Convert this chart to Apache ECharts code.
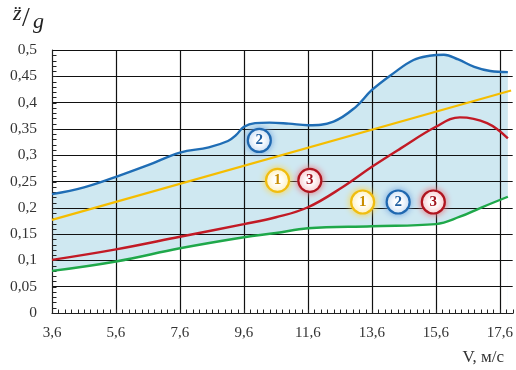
<!DOCTYPE html>
<html><head><meta charset="utf-8">
<script src="https://cdn.jsdelivr.net/npm/echarts@6/dist/echarts.min.js"></script>
<style>html,body{margin:0;padding:0;background:#fff}#c{width:516px;height:370px}</style>
</head><body><div id="c"></div>
<script>
var xTickLabels = ['3,6','5,6','7,6','9,6','11,6','13,6','15,6','17,6'];
var yTickLabels = ['0','0,05','0,1','0,15','0,2','0,25','0,3','0,35','0,4','0,45','0,5'];
var blueV = [3.6,4.6,5.6,6.6,7.6,8.5,9.1,9.35,9.6,9.95,10.4,11.0,11.6,12.4,13.1,13.6,14.3,14.9,15.4,15.85,16.3,16.8,17.3,17.85];
var blueY = [0.226,0.239,0.259,0.281,0.305,0.315,0.327,0.338,0.354,0.361,0.362,0.360,0.357,0.364,0.392,0.424,0.457,0.481,0.489,0.491,0.482,0.468,0.460,0.458];
var yellowV = [3.6,17.95];
var yellowY = [0.177,0.423];
var redV = [3.6,5.6,7.6,9.6,10.6,11.6,12.7,13.6,14.5,15.6,16.35,17.2,17.85];
var redY = [0.101,0.121,0.145,0.169,0.182,0.201,0.240,0.278,0.313,0.354,0.372,0.361,0.332];
var greenV = [3.6,5.6,7.6,9.6,10.6,11.6,13.6,15.6,16.35,17.0,17.85];
var greenY = [0.080,0.098,0.123,0.144,0.152,0.161,0.165,0.169,0.183,0.200,0.221];
var annoV = [10.08,10.65,11.66,13.31,14.42,15.52];
var annoY = [0.328,0.252,0.252,0.211,0.211,0.211];
var annoText = ['2','1','3','1','2','3'];

var C = {blue:'#1f6db5', yellow:'#f5bd00', red:'#c21a25', green:'#1fa84a', fill:'#cfe8f1'};
var annoColor = {'1':{b:'#f0bd10',t:'#c98e00',g:'rgba(250,215,80,1)'},
                 '2':{b:'#1f68b0',t:'#1f5ea0',g:'rgba(120,170,225,1)'},
                 '3':{b:'#b0141f',t:'#a0121c',g:'rgba(230,120,128,1)'}};
function pairs(xs, ys){ return xs.map(function(x,i){return [x, ys[i]];}); }
var serif = '"Liberation Serif","DejaVu Serif",serif';

// minor tick marks (axis decoration): every 0.2 on x, every 0.01 on y
var tickMarks = [];
for (var k = 0; k <= 72; k++) tickMarks.push([+(3.6 + k*0.2).toFixed(2), 0, 0]);
for (var m = 1; m < 50; m++) tickMarks.push([3.6, +(m*0.01).toFixed(2), 1]);

var chart = echarts.init(document.getElementById('c'));
var option = {
  animation:false,
  backgroundColor:'#fff',
  grid:{left:52,right:3,top:50,bottom:57,containLabel:false},
  xAxis:{
    type:'value', min:3.6, max:18, interval:2,
    axisLine:{show:true,onZero:false,lineStyle:{color:'#222',width:1.2}},
    axisTick:{show:false},
    splitLine:{show:true,showMaxLine:false,showMinLine:false,lineStyle:{color:'#111',width:1.2}},
    axisLabel:{show:true,margin:13,color:'#333',fontFamily:serif,fontSize:15,showMaxLabel:false,
      formatter:function(v){ var i=Math.round((v-3.6)/2); return (Math.abs(v-3.6-2*i)<1e-6 && xTickLabels[i])?xTickLabels[i]:''; }}
  },
  yAxis:{
    type:'value', min:0, max:0.5, interval:0.05,
    axisLine:{show:true,lineStyle:{color:'#222',width:1.2}},
    axisTick:{show:false},
    splitLine:{show:true,showMinLine:false,lineStyle:{color:'#111',width:1.2}},
    axisLabel:{margin:15,color:'#333',fontFamily:serif,fontSize:15.5,
      formatter:function(v){ var i=Math.round(v/0.05); return yTickLabels[i]; }}
  },
  series:[
    {type:'line',name:'bandTop',data:pairs(blueV,blueY),smooth:0.4,symbol:'none',z:-2,
      lineStyle:{width:0,opacity:0},areaStyle:{color:C.fill,opacity:1},silent:true},
    {type:'line',name:'bandBottom',data:pairs(greenV,greenY),smooth:0.4,symbol:'none',z:-1,
      lineStyle:{width:0,opacity:0},areaStyle:{color:'#ffffff',opacity:1},silent:true},
    {type:'custom',name:'ticks',z:5,clip:false,silent:true,data:tickMarks,
      renderItem:function(params, api){
        var p = api.coord([api.value(0), api.value(1)]);
        var vert = api.value(2) === 0;
        var x = Math.round(p[0]) + 0.5, y = Math.round(p[1]) + 0.5;
        return {type:'line',shape: vert ? {x1:x,y1:y,x2:x,y2:y-4} : {x1:x,y1:y,x2:x+4,y2:y},
          style:{stroke:'#222',lineWidth:1}};
      }},
    {type:'line',name:'green',data:pairs(greenV,greenY),smooth:0.4,symbol:'none',z:6,lineStyle:{color:C.green,width:2.4}},
    {type:'line',name:'red',data:pairs(redV,redY),smooth:0.4,symbol:'none',z:6,lineStyle:{color:C.red,width:2.4}},
    {type:'line',name:'yellow',data:pairs(yellowV,yellowY),smooth:false,symbol:'none',z:6,lineStyle:{color:C.yellow,width:2.2}},
    {type:'line',name:'blue',data:pairs(blueV,blueY),smooth:0.4,symbol:'none',z:6,lineStyle:{color:C.blue,width:2.4}},
    {type:'scatter',name:'anno',z:7,symbol:'circle',symbolSize:23,
      data:annoV.map(function(v,i){ var c=annoColor[annoText[i]]; return {value:[v,annoY[i]],
        itemStyle:{color:'#fff',borderColor:c.b,borderWidth:2.2,shadowBlur:6,shadowColor:c.g,opacity:1},
        label:{show:true,position:'inside',formatter:annoText[i],color:c.t,fontFamily:serif,fontWeight:'bold',fontSize:15}}; })
    }
  ],
  graphic:[
    {type:'text',left:13,top:3,style:{text:'z\u0308',font:'italic 22px '+serif,fill:'#222'}},
    {type:'text',left:22,top:5,style:{text:'/',font:'28px '+serif,fill:'#222'}},
    {type:'text',left:33,top:11,style:{text:'g',font:'italic 22px '+serif,fill:'#222'}},
    {type:'text',right:12,top:349,style:{text:'V, м/с',font:'17px '+serif,fill:'#333'}}
  ]
};
chart.setOption(option);
</script></body></html>
